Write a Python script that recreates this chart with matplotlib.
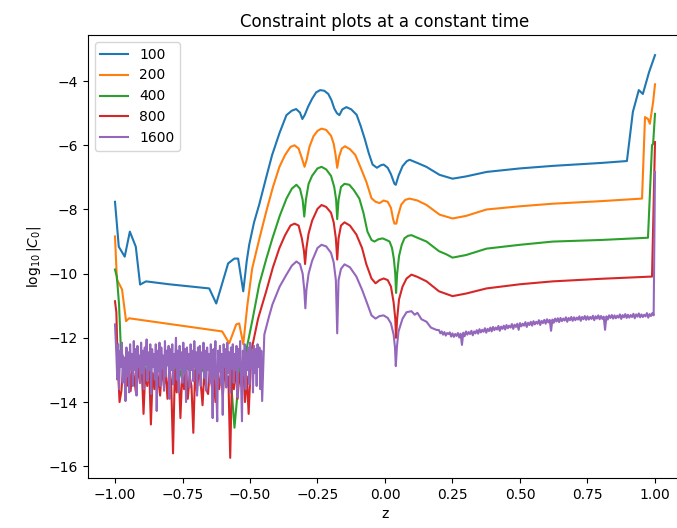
import numpy as np
import matplotlib
matplotlib.use('Agg')
import matplotlib.pyplot as plt

labels = ['100', '200', '400', '800', '1600']

# N = 100
z_100 = [-1.0, -0.986, -0.964, -0.945, -0.923, -0.907, -0.885, -0.8, -0.651, -0.625,
         -0.581, -0.558, -0.544, -0.525, -0.512, -0.503, -0.485, -0.466, -0.44, -0.418,
         -0.39, -0.365, -0.345, -0.329, -0.315, -0.306, -0.297, -0.285, -0.27, -0.255,
         -0.24, -0.225, -0.21, -0.198, -0.188, -0.178, -0.169, -0.158, -0.143, -0.125,
         -0.105, -0.09, -0.075, -0.06, -0.046, -0.03, -0.015, -0.005, 0.01, 0.022,
         0.035, 0.04, 0.05, 0.065, 0.08, 0.091, 0.12, 0.153, 0.202, 0.25,
         0.3, 0.376, 0.5, 0.623, 0.8, 0.896, 0.918, 0.94, 0.955, 0.978, 1.0]
v_100 = [-7.76, -9.16, -9.47, -8.69, -9.16, -10.34, -10.24, -10.33, -10.46, -10.93,
         -9.68, -9.53, -9.53, -10.55, -9.6, -9.1, -8.4, -7.85, -7.0, -6.3,
         -5.6, -5.06, -4.92, -4.87, -4.98, -5.18, -5.05, -4.8, -4.55, -4.35,
         -4.28, -4.3, -4.4, -4.6, -4.85, -5.0, -5.06, -4.88, -4.81, -4.88,
         -5.05, -5.4, -5.8, -6.25, -6.6, -6.7, -6.62, -6.6, -6.7, -6.9,
         -7.2, -7.23, -6.95, -6.65, -6.5, -6.45, -6.55, -6.67, -6.92, -7.04,
         -6.97, -6.83, -6.72, -6.64, -6.55, -6.49, -4.96, -4.28, -4.4, -3.72, -3.19]

# N = 200
z_200 = [-1.0, -0.993, -0.974, -0.959, -0.948, -0.603, -0.577, -0.551, -0.54, -0.525,
         -0.51, -0.492, -0.465, -0.44, -0.415, -0.391, -0.37, -0.35, -0.335, -0.32,
         -0.308, -0.298, -0.29, -0.28, -0.265, -0.25, -0.235, -0.218, -0.2, -0.19,
         -0.183, -0.177, -0.17, -0.16, -0.148, -0.13, -0.11, -0.09, -0.069, -0.05,
         -0.035, -0.02, -0.005, 0.01, 0.022, 0.03, 0.035, 0.042, 0.048, 0.06,
         0.075, 0.091, 0.12, 0.154, 0.202, 0.25, 0.3, 0.376, 0.5, 0.621,
         0.8, 0.952, 0.963, 0.974, 0.981, 0.993, 1.0]
v_200 = [-8.84, -10.18, -10.49, -11.48, -11.39, -11.8, -12.17, -11.58, -11.55, -12.2,
         -11.0, -9.84, -8.9, -8.07, -7.3, -6.67, -6.3, -6.05, -6.0, -6.1,
         -6.4, -6.67, -6.45, -6.05, -5.72, -5.55, -5.48, -5.52, -5.7, -5.95,
         -6.3, -6.7, -6.35, -6.1, -6.03, -6.12, -6.3, -6.7, -7.14, -7.65,
         -7.76, -7.8, -7.72, -7.76, -7.95, -8.3, -8.44, -8.44, -8.2, -7.85,
         -7.7, -7.66, -7.72, -7.86, -8.16, -8.28, -8.2, -8.0, -7.9, -7.82,
         -7.74, -7.66, -5.12, -5.18, -5.33, -4.65, -4.1]

# N = 400
z_400 = ([-1.0, -0.993, -0.985, -0.978]
         + list(np.linspace(-0.97, -0.52, 25))
         + [-0.514, -0.49, -0.466, -0.44, -0.417, -0.39, -0.365, -0.345, -0.328, -0.315,
            -0.305, -0.299, -0.293, -0.283, -0.27, -0.25, -0.235, -0.218, -0.2, -0.188,
            -0.181, -0.177, -0.172, -0.163, -0.15, -0.132, -0.115, -0.095, -0.08, -0.065,
            -0.05, -0.039, -0.025, -0.009, 0.005, 0.017, 0.026, 0.033, 0.038, 0.041,
            0.045, 0.052, 0.062, 0.072, 0.085, 0.098, 0.12, 0.154, 0.2, 0.228,
            0.25, 0.3, 0.376, 0.5, 0.621, 0.8, 0.974, 0.989, 0.993, 1.0])
v_400 = ([-9.87, -10.1, -10.96, -12.4]
         + [-12.6, -13.1, -12.7, -13.0, -12.8, -13.2, -12.6, -12.9, -13.1, -12.7,
            -12.8, -13.3, -12.7, -13.0, -12.8, -13.2, -12.9, -12.6, -13.1, -12.8,
            -13.0, -12.7, -14.8, -13.0, -12.6]
         + [-12.4, -11.4, -10.34, -9.55, -8.9, -8.2, -7.66, -7.35, -7.23, -7.35,
            -7.7, -8.22, -7.7, -7.2, -6.95, -6.72, -6.67, -6.75, -6.95, -7.3,
            -7.7, -8.3, -7.7, -7.3, -7.2, -7.23, -7.4, -7.66, -8.1, -8.69,
            -8.95, -9.0, -8.93, -8.9, -8.95, -9.0, -9.2, -9.55, -10.0, -10.6,
            -10.0, -9.45, -9.1, -8.9, -8.82, -8.8, -8.88, -9.0, -9.3, -9.4,
            -9.5, -9.42, -9.22, -9.1, -9.0, -8.95, -8.88, -5.99, -5.96, -5.02])

# N = 800
z_800 = ([-1.0, -0.995]
         + list(np.linspace(-0.99, -0.505, 72))
         + [-0.495, -0.47, -0.44, -0.415, -0.391, -0.37, -0.35, -0.335, -0.32, -0.308,
            -0.3, -0.296, -0.291, -0.283, -0.27, -0.25, -0.235, -0.218, -0.2, -0.19,
            -0.182, -0.177, -0.172, -0.163, -0.15, -0.13, -0.106, -0.085, -0.069, -0.05,
            -0.035, -0.02, -0.005, 0.01, 0.022, 0.032, 0.038, 0.041, 0.045, 0.052,
            0.065, 0.08, 0.098, 0.12, 0.154, 0.2, 0.25, 0.3, 0.376, 0.5,
            0.621, 0.8, 0.989, 1.0])
v_800 = ([-10.86, -11.2]
         + [-12.8, -14.0, -13.66, -12.9, -13.2, -13.5, -12.7, -13.66, -12.9, -13.3,
            -13.75, -12.8, -13.4, -12.9, -14.37, -13.0, -13.5, -12.8, -14.7, -13.1,
            -13.6, -12.9, -13.3, -13.8, -12.85, -13.5, -13.1, -13.9, -12.9, -13.4,
            -15.6, -13.0, -13.7, -12.9, -14.5, -13.1, -13.6, -12.8, -13.9, -13.2,
            -13.5, -14.96, -13.0, -13.7, -12.9, -13.4, -14.1, -13.0, -13.6, -13.75,
            -12.9, -13.5, -13.2, -14.0, -12.95, -13.6, -13.1, -13.8, -12.9, -13.5,
            -13.2, -15.74, -13.0, -13.6, -12.9, -13.9, -13.1, -13.5, -12.8, -14.0,
            -13.2, -14.37]
         + [-12.4, -11.4, -10.55, -9.8, -9.2, -8.8, -8.5, -8.44, -8.5, -8.9,
            -9.3, -9.7, -9.2, -8.75, -8.35, -7.98, -7.86, -7.92, -8.1, -8.4,
            -8.9, -9.56, -8.9, -8.5, -8.4, -8.5, -8.78, -9.2, -9.71, -10.15,
            -10.3, -10.2, -10.15, -10.2, -10.4, -10.9, -11.4, -12.0, -11.4, -10.8,
            -10.4, -10.15, -10.03, -10.1, -10.24, -10.55, -10.7, -10.62, -10.46, -10.33,
            -10.24, -10.16, -10.09, -5.9])

# N = 1600
z_1600 = ([-1.0]
          + list(np.linspace(-0.995, -0.455, 160))
          + [-0.447, -0.43, -0.417, -0.39, -0.365, -0.345, -0.328, -0.315, -0.305, -0.299,
             -0.295, -0.291, -0.283, -0.27, -0.25, -0.235, -0.218, -0.2, -0.19, -0.182,
             -0.177, -0.172, -0.163, -0.15, -0.13, -0.106, -0.085, -0.069, -0.05, -0.035,
             -0.02, -0.005, 0.01, 0.022, 0.032, 0.037, 0.04, 0.044, 0.05, 0.065,
             0.08, 0.098, 0.11, 0.12, 0.135, 0.154, 0.17, 0.19]
          + list(np.linspace(0.20, 0.995, 160))
          + [1.0])
v_1600 = ([-11.58]
          + [-12.5, -13.3, -12.2, -13.6, -12.4, -12.9, -12.15, -13.4, -12.6, -13.1,
             -13.97, -12.3, -13.2, -12.45, -13.7, -12.2, -12.95, -12.5, -13.5, -12.1,
             -13.0, -12.35, -13.8, -12.25, -12.9, -12.55, -13.4, -12.15, -13.1, -12.4,
             -13.6, -12.3, -12.85, -12.05, -13.35, -12.45, -13.0, -12.2, -13.75, -12.35,
             -12.9, -12.5, -13.3, -12.2, -14.28, -12.4, -13.05, -12.15, -13.5, -12.3,
             -12.95, -12.55, -13.65, -12.1, -13.2, -12.4, -12.85, -12.25, -13.9, -12.35,
             -13.0, -12.2, -13.45, -12.5, -12.9, -12.0, -13.3, -12.4, -13.7, -12.25,
             -12.95, -12.45, -13.4, -12.15, -13.1, -12.35, -14.0, -12.3, -12.85, -12.5,
             -13.55, -12.2, -13.0, -12.4, -13.35, -12.1, -12.9, -12.45, -13.8, -12.3,
             -13.1, -12.25, -13.5, -12.45, -12.95, -12.15, -13.25, -12.4, -13.65, -12.3,
             -13.0, -12.5, -13.4, -12.2, -12.9, -14.5, -12.35, -13.2, -12.1, -13.6,
             -14.6, -12.4, -13.05, -12.25, -13.45, -12.5, -14.4, -12.2, -12.9, -12.35,
             -13.55, -12.15, -13.1, -12.45, -13.7, -12.3, -12.95, -12.2, -13.4, -12.5,
             -13.0, -12.25, -13.85, -12.35, -12.9, -12.1, -13.3, -14.6, -12.4, -13.15,
             -12.2, -13.6, -12.45, -13.0, -12.3, -13.45, -12.15, -12.95, -12.4, -13.7,
             -12.25, -13.1, -12.35, -13.5, -12.2, -12.9, -12.3, -13.6, -12.4, -13.97]
          + [-11.9, -11.35, -10.96, -10.4, -10.03, -9.75, -9.62, -9.7, -10.0, -10.5,
             -11.08, -10.5, -10.0, -9.6, -9.2, -9.1, -9.15, -9.35, -9.65, -10.2,
             -11.86, -10.2, -9.85, -9.71, -9.8, -10.09, -10.5, -10.86, -11.3, -11.4,
             -11.32, -11.3, -11.38, -11.55, -11.9, -12.3, -12.88, -12.3, -11.8, -11.4,
             -11.2, -11.17, -11.28, -11.22, -11.42, -11.5, -11.68, -11.75]
          + [-11.76, -11.86, -11.80, -11.90, -11.82, -11.93, -11.85, -11.88, -11.83, -11.96,
             -11.86, -11.97, -11.88, -11.94, -11.85, -11.99, -11.87, -12.22, -11.84, -11.95,
             -11.80, -11.90, -11.82, -11.88, -11.78, -11.92, -11.80, -11.86, -11.76, -11.87,
             -11.73, -11.83, -11.75, -11.81, -11.70, -11.84, -11.72, -11.79, -11.68, -11.80,
             -11.66, -11.76, -11.68, -11.74, -11.63, -11.78, -11.65, -11.72, -11.62, -11.74,
             -11.60, -11.70, -11.62, -11.68, -11.57, -11.72, -11.59, -11.66, -11.56, -11.75,
             -11.54, -11.64, -11.56, -11.62, -11.51, -11.66, -11.53, -11.60, -11.50, -11.62,
             -11.48, -11.58, -11.50, -11.56, -11.45, -11.60, -11.47, -11.54, -11.44, -11.56,
             -11.42, -11.52, -11.44, -11.78, -11.43, -11.53, -11.40, -11.49, -11.39, -11.51,
             -11.38, -11.48, -11.40, -11.46, -11.36, -11.50, -11.38, -11.45, -11.35, -11.47,
             -11.36, -11.45, -11.37, -11.43, -11.33, -11.47, -11.35, -11.42, -11.32, -11.44,
             -11.33, -11.43, -11.35, -11.41, -11.31, -11.45, -11.33, -11.40, -11.30, -11.42,
             -11.32, -11.41, -11.34, -11.75, -11.33, -11.43, -11.30, -11.38, -11.29, -11.40,
             -11.30, -11.39, -11.31, -11.37, -11.27, -11.41, -11.29, -11.36, -11.26, -11.38,
             -11.28, -11.37, -11.29, -11.35, -11.25, -11.39, -11.27, -11.34, -11.24, -11.36,
             -11.27, -11.35, -11.28, -11.33, -11.23, -11.37, -11.26, -11.32, -11.23, -11.30]
          + [-6.83])

fig = plt.figure(figsize=(6.77, 5.28), dpi=100)
ax = fig.add_axes([88 / 677, 50 / 528, 594 / 677, 443 / 528])

for z, v, lab in zip([z_100, z_200, z_400, z_800, z_1600],
                     [v_100, v_200, v_400, v_800, v_1600], labels):
    ax.plot(z, v, label=lab)

ax.set_title('Constraint plots at a constant time')
ax.set_xlabel('z')
ax.set_ylabel(r'$\log_{10}|C_0|$')
ax.legend(loc='upper left')

fig.savefig('out.png', dpi=100)
